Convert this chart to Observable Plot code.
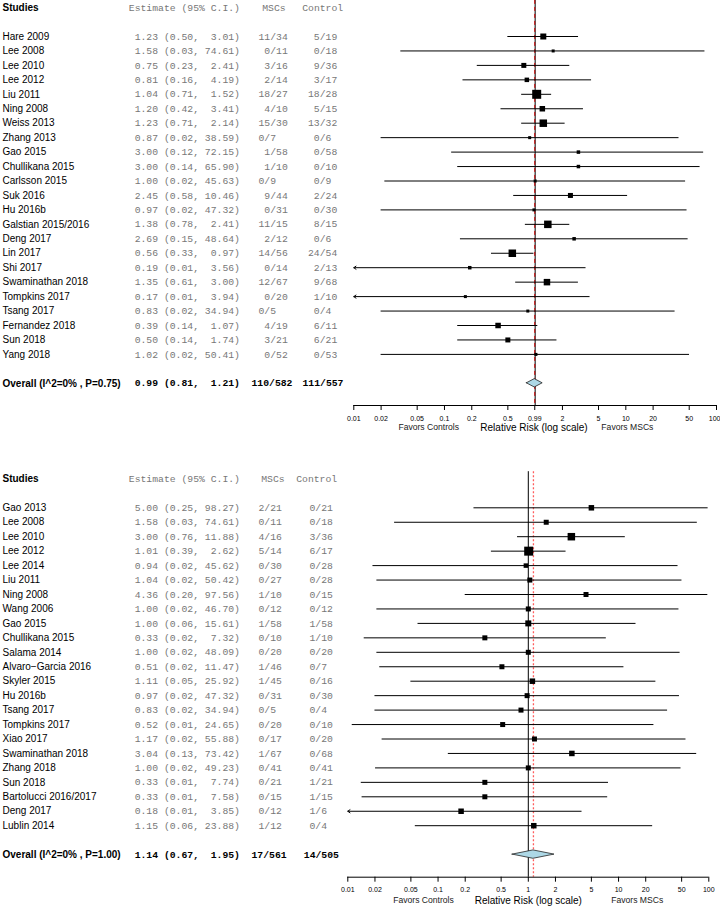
<!DOCTYPE html>
<html><head><meta charset="utf-8">
<script src="https://cdn.jsdelivr.net/npm/d3@7"></script>
<script src="https://cdn.jsdelivr.net/npm/@observablehq/plot@0.6"></script>
<style>
body{margin:0;background:#fff;}
#chart svg{display:block;}
</style></head><body><div id="chart"></div><script>
// ---------- Panel 1 data ----------
const studies1 = ["Hare 2009","Lee 2008","Lee 2010","Lee 2012","Liu 2011","Ning 2008","Weiss 2013","Zhang 2013","Gao 2015","Chullikana 2015","Carlsson 2015","Suk 2016","Hu 2016b","Galstian 2015/2016","Deng 2017","Lin 2017","Shi 2017","Swaminathan 2018","Tompkins 2017","Tsang 2017","Fernandez 2018","Sun 2018","Yang 2018"];
const est1 = [1.23,1.58,0.75,0.81,1.04,1.20,1.23,0.87,3.00,3.00,1.00,2.45,0.97,1.38,2.69,0.56,0.19,1.35,0.17,0.83,0.39,0.50,1.02];
const lo1  = [0.50,0.033,0.23,0.16,0.71,0.42,0.71,0.02,0.12,0.14,0.022,0.58,0.02,0.78,0.15,0.33,0.008,0.61,0.008,0.02,0.14,0.14,0.02];
const hi1  = [3.01,74.61,2.41,4.19,1.52,3.41,2.14,38.59,72.15,65.90,45.63,10.46,47.32,2.41,48.64,0.97,3.56,3.00,3.94,34.94,1.07,1.74,50.41];
const mscs1 = ["11/34"," 0/11"," 3/16"," 2/14","18/27"," 4/10","15/30","0/7"," 1/58"," 1/10","0/9"," 9/44"," 0/31","11/15"," 2/12","14/56"," 0/14","12/67"," 0/20","0/5"," 4/19"," 3/21"," 0/52"];
const ctrl1 = [" 5/19"," 0/18"," 9/36"," 3/17","18/28"," 5/15","13/32"," 0/6"," 0/58"," 0/10"," 0/9"," 2/24"," 0/30"," 8/15"," 0/6","24/54"," 2/13"," 9/68"," 1/10"," 0/4"," 6/11"," 6/21"," 0/53"];
const weight1 = [6,3,5,4.5,9,5.5,7.5,3,3.5,3.5,3,5,3,7.5,3.5,7.5,3.5,6.5,3,3,5.5,5,3];
const overall1 = {label:"Overall (I^2=0% , P=0.75)", est:0.99, lo:0.81, hi:1.21, msc:"110/582", ctrl:"111/557"};
const ticks1 = [0.01,0.02,0.05,0.1,0.2,0.5,0.99,2,5,10,20,50,100];
const tickLabels1 = ["0.01","0.02","0.05","0.1","0.2","0.5","0.99","2","5","10","20","50","100"];

// ---------- Panel 2 data ----------
const studies2 = ["Gao 2013","Lee 2008","Lee 2010","Lee 2012","Lee 2014","Liu 2011","Ning 2008","Wang 2006","Gao 2015","Chullikana 2015","Salama 2014","Alvaro\u2212Garcia 2016","Skyler 2015","Hu 2016b","Tsang 2017","Tompkins 2017","Xiao 2017","Swaminathan 2018","Zhang 2018","Sun 2018","Bartolucci 2016/2017","Deng 2017","Lublin 2014"];
const est2 = [5.00,1.58,3.00,1.01,0.94,1.04,4.36,1.00,1.00,0.33,1.00,0.51,1.11,0.97,0.83,0.52,1.17,3.04,1.00,0.33,0.33,0.18,1.15];
const lo2  = [0.25,0.033,0.76,0.39,0.019,0.021,0.20,0.021,0.06,0.0152,0.021,0.0226,0.05,0.02,0.02,0.0112,0.024,0.13,0.0203,0.0141,0.0144,0.008,0.056];
const hi2  = [98.27,74.61,11.88,2.62,45.62,50.42,97.56,46.70,15.61,7.32,48.09,11.47,25.92,47.32,34.94,24.65,55.88,73.42,49.23,7.74,7.58,3.85,23.88];
const mscs2 = ["2/21","0/11","4/16","5/14","0/30","0/27","1/10","0/12","1/58","0/10","0/20","1/46","1/45","0/31","0/5","0/20","0/17","1/67","0/41","0/21","0/15","0/12","1/12"];
const ctrl2 = ["0/21","0/18","3/36","6/17","0/28","0/28","0/15","0/12","1/58","1/10","0/20","0/7","0/16","0/30","0/4","0/10","0/20","0/68","0/41","1/21","1/15","1/6","0/4"];
const weight2 = [5.5,5,7.5,9,4.5,5,5,5,6,5,5,5,5.5,5,5,5,5,5.5,5,5,5,5.5,5.5];
const overall2 = {label:"Overall (I^2=0% , P=1.00)", est:1.14, lo:0.67, hi:1.95, msc:"17/561", ctrl:"14/505"};
const ticks2 = [0.01,0.02,0.05,0.1,0.2,0.5,1,2,5,10,20,50,100];
const tickLabels2 = ["0.01","0.02","0.05","0.1","0.2","0.5","1","2","5","10","20","50","100"];

const SANS = "Liberation Sans, Arial, Helvetica, sans-serif";
const MONO = "Liberation Mono, Courier New, monospace";
const GRAY = "#777";
const NB = s => s.replace(/ /g, "\u00a0");

function panel(p) {
  const fmt = v => v.toFixed(2);
  const ci = (e, l, h) => NB(`${fmt(e).padStart(5)} (${fmt(l)}, ${fmt(h).padStart(5)})`);
  const rows = p.studies.map((s, i) => ({study: s, est: p.est[i], lo: p.lo[i], hi: p.hi[i],
    msc: NB(p.mscs[i]), ctrl: NB(p.ctrl[i]), w: p.weight[i], row: i + 2,
    txt: ci(p.est[i], p.lo[i], p.hi[i])}));
  const ovRow = rows.length + 3;
  const ov = {...p.overall, row: ovRow, txt: ci(p.overall.est, p.overall.lo, p.overall.hi)};
  const axisRow = p.axisRow;
  const rowPx = 14.45;
  const minX = p.ticks[0], maxX = p.ticks[p.ticks.length - 1];
  const h = 0.29;
  const diamond = [
    {x: ov.lo, y1: ovRow, y2: ovRow},
    {x: ov.est, y1: ovRow - h, y2: ovRow + h},
    {x: ov.hi, y1: ovRow, y2: ovRow}
  ];
  const L = p.cols;
  const header = [{row: 0}];
  const nT = p.ticks.length;
  return Plot.plot({
    width: 720, height: p.height,
    marginLeft: 0, marginRight: 0, marginTop: 0, marginBottom: 0,
    style: {fontFamily: SANS, fontSize: "10px", background: "white", overflow: "visible"},
    x: {type: "log", domain: [minX, maxX], range: p.xRange, axis: null},
    y: {type: "linear", domain: [0, 26], range: p.yRange, axis: null},
    r: {type: "linear", domain: [0, 10], range: [0, 10 / Math.sqrt(Math.PI)]},
    marks: [
      // reference lines
      Plot.ruleX([1], {y1: -0.5, y2: axisRow, stroke: "black", strokeWidth: 1}),
      Plot.ruleX([ov.est], {y1: -0.5, y2: axisRow, stroke: p.refColor, strokeWidth: p.refWidth, strokeDasharray: p.refDash}),
      // CI lines
      Plot.ruleY(rows.filter(d => d.lo >= minX), {y: "row", x1: "lo", x2: "hi", stroke: "black", strokeWidth: 1}),
      Plot.arrow(rows.filter(d => d.lo < minX), {x1: "hi", x2: () => minX, y1: "row", y2: "row", stroke: "black", strokeWidth: 1, headLength: 4, headAngle: 70}),
      Plot.dot(rows, {x: "est", y: "row", r: "w", symbol: "square", fill: "black"}),
      // summary diamond
      Plot.areaY(diamond, {x: "x", y1: "y1", y2: "y2", fill: "#add8e6", stroke: "#222", strokeWidth: 0.8}),
      // axis
      Plot.ruleY([axisRow], {x1: minX, x2: maxX, stroke: "black"}),
      Plot.ruleX(p.ticks, {x: d => d, y1: axisRow, y2: axisRow + 5 / rowPx, stroke: "black"}),
      Plot.text(p.ticks.slice(0, nT - 1), {x: d => d, y: axisRow, dy: 13, text: (d, i) => p.tickLabels[i], fontSize: 7, fill: "black"}),
      Plot.text(p.ticks.slice(nT - 1), {x: d => d, y: axisRow, dy: 13, dx: p.lastDx, textAnchor: p.lastAnchor, text: () => p.tickLabels[nT - 1], fontSize: 7, fill: "black"}),
      Plot.text(["Favors Controls"], {x: p.favL, y: axisRow, dy: p.labelDy, fontSize: 8.6, fill: "#222"}),
      Plot.text(["Relative Risk (log scale)"], {x: p.rrX, y: axisRow, dy: p.labelDy + 1, fontSize: 10, fill: "black"}),
      Plot.text(["Favors MSCs"], {x: p.favR, y: axisRow, dy: p.labelDy, fontSize: 8.6, fill: "#222"}),
      // table header
      Plot.text(header, {y: "row", text: () => "Studies", frameAnchor: "left", dx: L.name, textAnchor: "start", fontWeight: "bold", fill: "black", fontSize: 10}),
      Plot.text(header, {y: "row", text: () => "Estimate (95% C.I.)", frameAnchor: "left", dx: L.est, textAnchor: "start", fontFamily: MONO, fontSize: 9.75, fill: GRAY}),
      Plot.text(header, {y: "row", text: () => "MSCs", frameAnchor: "left", dx: L.mscH, textAnchor: "start", fontFamily: MONO, fontSize: 9.75, fill: GRAY}),
      Plot.text(header, {y: "row", text: () => "Control", frameAnchor: "left", dx: L.ctrlH, textAnchor: "start", fontFamily: MONO, fontSize: 9.75, fill: GRAY}),
      // table rows
      Plot.text(rows, {y: "row", text: "study", frameAnchor: "left", dx: L.name, textAnchor: "start", fill: "black", fontSize: 10}),
      Plot.text(rows, {y: "row", text: "txt", frameAnchor: "left", dx: L.est, textAnchor: "start", fontFamily: MONO, fontSize: 9.75, fill: GRAY}),
      Plot.text(rows, {y: "row", text: "msc", frameAnchor: "left", dx: L.msc, textAnchor: "start", fontFamily: MONO, fontSize: 9.75, fill: GRAY}),
      Plot.text(rows, {y: "row", text: "ctrl", frameAnchor: "left", dx: L.ctrl, textAnchor: "start", fontFamily: MONO, fontSize: 9.75, fill: GRAY}),
      // overall row
      Plot.text([ov], {y: "row", text: "label", frameAnchor: "left", dx: L.name, textAnchor: "start", fontWeight: "bold", fill: "black", fontSize: 10}),
      Plot.text([ov], {y: "row", text: "txt", frameAnchor: "left", dx: L.est, textAnchor: "start", fontFamily: MONO, fontWeight: "bold", fontSize: 9.75, fill: "black"}),
      Plot.text([ov], {y: "row", text: "msc", frameAnchor: "left", dx: L.mscO, textAnchor: "start", fontFamily: MONO, fontWeight: "bold", fontSize: 9.75, fill: "black"}),
      Plot.text([ov], {y: "row", text: "ctrl", frameAnchor: "left", dx: L.ctrlO, textAnchor: "start", fontFamily: MONO, fontWeight: "bold", fontSize: 9.75, fill: "black"})
    ]
  });
}

const chart = document.getElementById("chart");
chart.append(panel({
  studies: studies1, est: est1, lo: lo1, hi: hi1, mscs: mscs1, ctrl: ctrl1, weight: weight1, overall: overall1,
  ticks: ticks1, tickLabels: tickLabels1,
  height: 455, axisRow: (405 - 7.1) / 14.45,
  xRange: [353.3, 716], yRange: [7.1, 7.1 + 26 * 14.45],
  refColor: "#cc0000", refDash: "4,3", refWidth: 1,
  favL: 0.067, favR: 10.4, rrX: 0.97, labelDy: 21.5,
  lastAnchor: "end", lastDx: 4,
  cols: {name: 2, est: 128.3, mscH: 261.7, ctrlH: 301.7, msc: 258, ctrl: 307.5, mscO: 251, ctrlO: 302}
}));
chart.append(panel({
  studies: studies2, est: est2, lo: lo2, hi: hi2, mscs: mscs2, ctrl: ctrl2, weight: weight2, overall: overall2,
  ticks: ticks2, tickLabels: tickLabels2,
  height: 454, axisRow: (421.7 - 23.4) / 14.45,
  xRange: [347.3, 708.3], yRange: [23.4, 23.4 + 26 * 14.45],
  refColor: "#ff5c5c", refDash: "2,2", refWidth: 1.3,
  favL: 0.069, favR: 16.1, rrX: 1, labelDy: 23,
  lastAnchor: "middle", lastDx: 0,
  cols: {name: 2, est: 128.3, mscH: 260.7, ctrlH: 295.7, msc: 258, ctrl: 309, mscO: 251, ctrlO: 303.3}
}));
</script></body></html>
